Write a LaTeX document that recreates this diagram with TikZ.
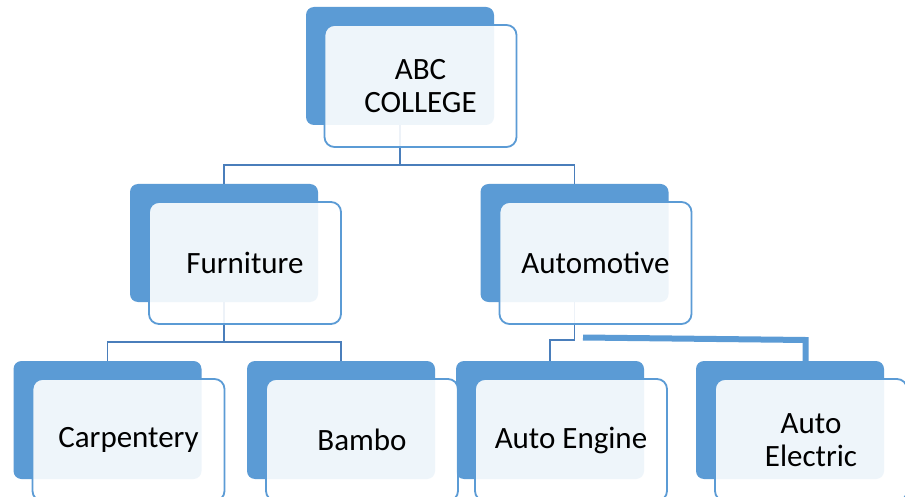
\documentclass[tikz,border=0pt]{standalone}
\usepackage{fontspec}
\setmainfont{Carlito}
\usetikzlibrary{calc}
\definecolor{boxblue}{HTML}{5B9BD5}
\definecolor{linkblue}{HTML}{4A7EBB}
\begin{document}
\begin{tikzpicture}[x=1pt,y=-1pt,
  backbox/.style={draw=none,fill=boxblue,rounded corners=8pt,minimum width=188pt,minimum height=118pt,inner sep=0pt},
  frontbox/.style={draw=boxblue,line width=1.8pt,fill=white,fill opacity=0.9,text opacity=1,rounded corners=10pt,minimum width=192pt,minimum height=122pt,inner sep=0pt,align=center,font=\fontsize{31}{33}\selectfont},
  link/.style={draw=linkblue,line width=1.8pt},
  thicklink/.style={draw=boxblue,line width=6pt,line join=miter}]
\useasboundingbox (0,0) rectangle (905,497);
\clip (0,0) rectangle (905,497);
\fill[white] (0,0) rectangle (905,497);
% back boxes
\node[backbox] (topB) at (400,66) {};
\node[backbox] (furnB) at (224,243) {};
\node[backbox] (autoB) at (574.5,243) {};
\node[backbox] (carpB) at (107.5,420) {};
\node[backbox] (bambB) at (341,420) {};
\node[backbox] (engB) at (550,420) {};
\node[backbox] (elecB) at (790,420) {};
% connectors
\draw[link] (topB.south) -- (topB.south |- 0,165) -| (furnB.north);
\draw[link] (topB.south) -- (topB.south |- 0,165) -| (autoB.north);
\draw[link] (furnB.south) -- (furnB.south |- 0,342) -| (carpB.north);
\draw[link] (furnB.south) -- (furnB.south |- 0,342) -| (bambB.north);
\draw[link] (autoB.south) -- (autoB.south |- 0,340) -| (engB.north);
\coordinate (t1) at (583,337.5);
\coordinate (t2) at (805.5,340);
\draw[thicklink] (t1) -- (t2) -- (t2 |- elecB.north);
% front boxes
\node[frontbox] (top) at (420.5,86) {ABC\\COLLEGE};
\node[frontbox] (furn) at (245,263) {Furniture};
\node[frontbox] (auto) at (595.5,263) {Automotive};
\node[frontbox] (carp) at (128.5,440) {Carpentery};
\node[frontbox] (bamb) at (362,440) {Bambo};
\node[frontbox] (eng) at (571,440) {Auto Engine};
\node[frontbox] (elec) at (811,440) {Auto\\Electric};
\end{tikzpicture}
\end{document}
